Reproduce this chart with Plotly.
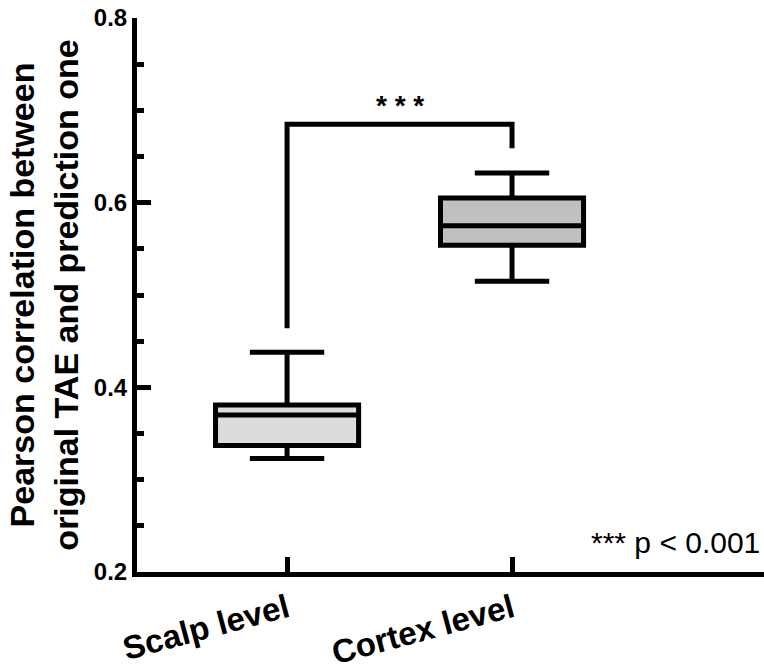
import plotly.graph_objects as go

categories = ["Scalp level", "Cortex level"]
q1 = [0.337, 0.554]
median = [0.370, 0.575]
q3 = [0.381, 0.605]
lower = [0.323, 0.515]
upper = [0.438, 0.632]
fills = ["#dcdcdc", "#c0c0c0"]

bracket_x = ["Scalp level", "Scalp level", "Cortex level", "Cortex level"]
bracket_y = [0.464, 0.685, 0.685, 0.659]

y_ticks = [0.2, 0.4, 0.6, 0.8]
y_ticktext = ["0.2", "0.4", "0.6", "0.8"]

FONT = "Arial, Liberation Sans, sans-serif"

fig = go.Figure()
for i, c in enumerate(categories):
    fig.add_trace(go.Box(
        x=[c], q1=[q1[i]], median=[median[i]], q3=[q3[i]],
        lowerfence=[lower[i]], upperfence=[upper[i]],
        fillcolor=fills[i], line=dict(color="black", width=5),
        whiskerwidth=0.52, width=0.636, boxpoints=False,
        showlegend=False, hoverinfo="skip",
    ))

fig.add_trace(go.Scatter(
    x=bracket_x, y=bracket_y, mode="lines",
    line=dict(color="black", width=5), showlegend=False, hoverinfo="skip",
))

fig.add_annotation(x=0.5, y=0.705, xref="x", yref="y", text="<b>* * *</b>",
                   showarrow=False, font=dict(family=FONT, size=28, color="black"))
fig.add_annotation(x=1, y=0.232, xref="paper", yref="y", text="*** p < 0.001",
                   xanchor="right", yanchor="middle", xshift=-2, showarrow=False,
                   font=dict(family=FONT, size=30, color="black"))

fig.update_layout(
    width=764, height=671,
    margin=dict(l=137, r=0, t=18, b=89),
    paper_bgcolor="white", plot_bgcolor="white",
    font=dict(family=FONT, color="black"),
    xaxis=dict(
        type="category", categoryorder="array", categoryarray=categories,
        tickvals=categories, ticktext=["<b>" + c + "</b>" for c in categories],
        range=[-0.667, 2.12], showline=True, linewidth=5, linecolor="black",
        ticks="inside", ticklen=15, tickwidth=5, tickcolor="black",
        tickangle=-15, tickfont=dict(family=FONT, size=33, color="black"),
        showgrid=False, zeroline=False,
    ),
    yaxis=dict(
        range=[0.2, 0.8], tickvals=y_ticks, ticktext=["<b>" + t + "</b>" for t in y_ticktext],
        showline=True, linewidth=5, linecolor="black",
        ticks="inside", ticklen=14, tickwidth=5, tickcolor="black",
        minor=dict(dtick=0.05, tick0=0.2, ticks="inside", ticklen=7, tickwidth=5, tickcolor="black"),
        tickfont=dict(family=FONT, size=24, color="black"),
        showgrid=False, zeroline=False,
        title=dict(text="<b>Pearson correlation between<br>original TAE and prediction one</b>",
                   font=dict(family=FONT, size=34, color="black"), standoff=6),
        automargin=False,
    ),
)

fig.write_html("out.html")
